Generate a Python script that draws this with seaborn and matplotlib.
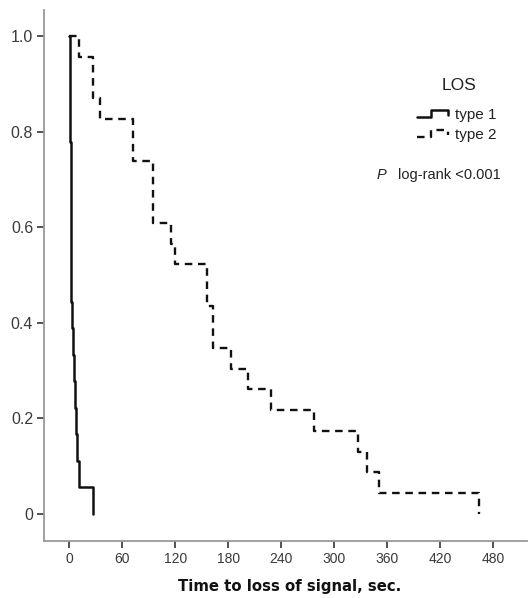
import matplotlib
matplotlib.use('Agg')
import matplotlib.pyplot as plt
from matplotlib.legend_handler import HandlerBase
from matplotlib.lines import Line2D
import seaborn as sns
import pandas as pd

# Kaplan-Meier steps (time in sec, survival from that time on)
time_type1 = [0, 1.1, 1.9, 3.4, 4.5, 5.7, 6.5, 7.6, 8.4, 11.3, 27.2]
surv_type1 = [1.0, 0.778, 0.444, 0.389, 0.333, 0.278, 0.222, 0.167, 0.111, 0.056, 0.0]

time_type2 = [0, 11, 26.5, 34.7, 72.5, 94.4, 114.8, 119.7, 156.3, 162.3, 183,
              202.7, 228, 277, 327, 337, 351, 464]
surv_type2 = [1.0, 0.957, 0.870, 0.826, 0.739, 0.609, 0.565, 0.522, 0.435, 0.348, 0.304,
              0.261, 0.217, 0.174, 0.130, 0.087, 0.043, 0.0]

groups = ['type 1', 'type 2']
x_ticks = [0, 60, 120, 180, 240, 300, 360, 420, 480]
y_ticks = [0, 0.2, 0.4, 0.6, 0.8, 1.0]
y_tick_labels = ['0', '0.2', '0.4', '0.6', '0.8', '1.0']

df = pd.concat([
    pd.DataFrame({'time': time_type1, 'surv': surv_type1, 'LOS': 'type 1'}),
    pd.DataFrame({'time': time_type2, 'surv': surv_type2, 'LOS': 'type 2'}),
])

sns.set_style('white')
plt.rcParams['font.family'] = ['Liberation Sans', 'DejaVu Sans']

dash_pat = (3.2, 2.4)


class StepHandler(HandlerBase):
    # legend key drawn as a little step, like SPSS does
    def create_artists(self, legend, orig_handle, xdescent, ydescent,
                       width, height, fontsize, trans):
        x0 = -xdescent
        y0 = -ydescent
        xs = [x0, x0 + 0.45 * width, x0 + 0.45 * width, x0 + width, x0 + width]
        ys = [y0 + 0.15 * height, y0 + 0.15 * height, y0 + 0.85 * height,
              y0 + 0.85 * height, y0 + 0.35 * height]
        line = Line2D(xs, ys, color=orig_handle.get_color(),
                      linewidth=orig_handle.get_linewidth(),
                      linestyle=orig_handle.get_linestyle())
        if orig_handle.get_linestyle() not in ('-', 'solid'):
            line.set_dashes(dash_pat)
        line.set_transform(trans)
        return [line]


fig = plt.figure(figsize=(5.30, 5.98), dpi=100)
ax = fig.add_axes([0.0836, 0.0958, 0.911, 0.8872])

sns.lineplot(data=df, x='time', y='surv', hue='LOS', style='LOS',
             palette={'type 1': '#111111', 'type 2': '#111111'},
             dashes={'type 1': '', 'type 2': dash_pat},
             drawstyle='steps-post', linewidth=1.7, sort=False,
             estimator=None, legend=False, ax=ax)
ax.lines[0].set_linewidth(1.8)

ax.set_xlim(-28.3, 518.6)
ax.set_ylim(-0.056, 1.054)
ax.set_xticks(x_ticks)
ax.set_yticks(y_ticks)
ax.set_yticklabels(y_tick_labels)
ax.tick_params(axis='both', length=5, width=1.3, color='#444444',
               labelcolor='#3a3a3a', pad=3, bottom=True, left=True)
ax.tick_params(axis='x', labelsize=10)
ax.tick_params(axis='y', labelsize=11.5)
for side in ['top', 'right']:
    ax.spines[side].set_visible(False)
for side in ['left', 'bottom']:
    ax.spines[side].set_color('#9a9a9a')
    ax.spines[side].set_linewidth(1.3)

ax.set_xlabel('Time to loss of signal, sec.', fontsize=10.7, fontweight='bold',
              family='DejaVu Sans', color='#111111')
ax.xaxis.set_label_coords(0.509, -0.073)
ax.set_ylabel('')

handles = [Line2D([], [], color='#111111', linewidth=1.8, linestyle='-'),
           Line2D([], [], color='#111111', linewidth=1.7, linestyle='--')]
fig.text(459 / 530, 1 - 86 / 598, 'LOS', fontsize=12.5, ha='center', va='center',
         color='#222222')
leg = fig.legend(handles, groups, loc='upper left',
                 bbox_to_anchor=(417 / 530, 1 - 108 / 598), frameon=False,
                 fontsize=11, borderpad=0, borderaxespad=0,
                 handlelength=2.0, handletextpad=0.5, labelspacing=0.38,
                 handler_map={Line2D: StepHandler()})
for t in leg.get_texts():
    t.set_color('#222222')

fig.text(377 / 530, 1 - 175 / 598, 'P', style='italic', fontsize=10.5,
         va='center', ha='left', color='#222222')
fig.text(398 / 530, 1 - 175 / 598, 'log-rank <0.001', fontsize=10.5,
         va='center', ha='left', color='#222222')

fig.savefig('out.png', dpi=100)
